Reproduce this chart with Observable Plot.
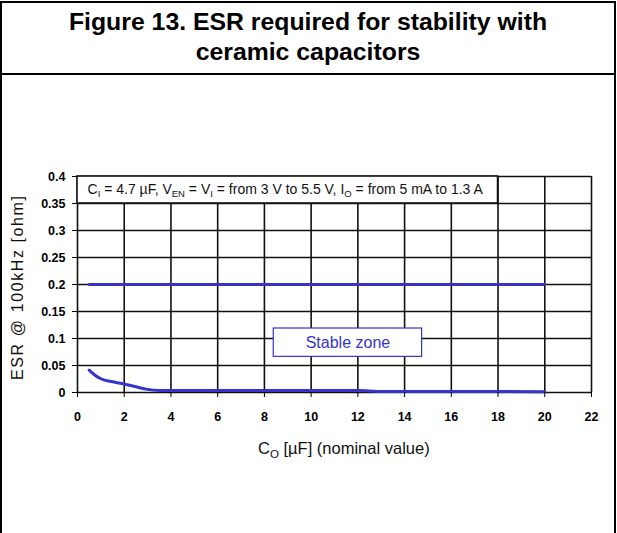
<!DOCTYPE html>
<html>
<head>
<meta charset="utf-8">
<script src="https://cdn.jsdelivr.net/npm/d3@7"></script>
<script src="https://cdn.jsdelivr.net/npm/@observablehq/plot@0.6"></script>
<style>
  html, body { margin: 0; padding: 0; background: #fff; }
  #frame { position: relative; width: 617px; height: 533px; overflow: hidden; font-family: "Liberation Sans", Arial, sans-serif; }
  #border { position: absolute; left: 0; top: 1px; width: 616px; height: 540px; box-sizing: border-box; border: 2px solid #000; pointer-events: none; }
  #title { position: absolute; left: 0; top: 0; width: 616px; height: 75px; box-sizing: border-box; border-bottom: 2px solid #000; text-align: center; font-weight: bold; font-size: 24.8px; line-height: 30px; padding-top: 7px; color: #000; }
  #chart { position: absolute; left: 0; top: 76px; }
  #chart svg { font-family: "Liberation Sans", Arial, sans-serif; }
  g[aria-label="x-axis tick label"] text, g[aria-label="y-axis tick label"] text { font-weight: bold; }
</style>
</head>
<body>
<div id="frame">
  <div id="title">Figure 13. ESR required for stability with<br>ceramic capacitors</div>
  <div id="chart"></div>
  <div id="border"></div>
</div>
<script>
// ---- data ----
const xTicks = [0, 2, 4, 6, 8, 10, 12, 14, 16, 18, 20, 22];
const yTicks = [0, 0.05, 0.1, 0.15, 0.2, 0.25, 0.3, 0.35, 0.4];

// upper ESR limit
const upperX = [0.5, 20];
const upperY = [0.2, 0.2];

// lower ESR limit
const lowerX = [0.5, 0.75, 1, 1.5, 2, 2.5, 3, 3.5, 4, 6, 8, 10, 12, 12.5, 13, 14, 16, 18, 20];
const lowerY = [0.0415, 0.032, 0.0255, 0.0198, 0.0158, 0.0105, 0.0058, 0.0038, 0.0035, 0.0035, 0.0035, 0.0035, 0.0035, 0.0028, 0.002, 0.002, 0.002, 0.002, 0.0015];

// annotation (text, isSubscript)
const annotationParts = [
  ["C", false], ["I", true], [" = 4.7 µF, V", false], ["EN", true], [" = V", false], ["I", true],
  [" = from 3 V to 5.5 V, I", false], ["O", true], [" = from 5 mA to 1.3 A", false]
];
const xLabelParts = [["C", false], ["O", true], [" [µF] (nominal value)", false]];
const yLabel = "ESR @ 100kHz [ohm]";
const zoneLabel = "Stable zone";

const annotationBox = [{x1: 0, x2: 18, y1: 0.35, y2: 0.4}];
const zoneBox = [{x1: 8.4, x2: 14.75, y1: 0.066, y2: 0.1185}];

const upper = upperX.map((x, i) => ({x, y: upperY[i]}));
const lower = lowerX.map((x, i) => ({x, y: lowerY[i]}));

const blue = "#3535c8";
const annotationText = annotationParts.map(d => d[0]).join("");
const xLabelText = xLabelParts.map(d => d[0]).join("");

const plot = Plot.plot({
  width: 617,
  height: 457,
  marginLeft: 77,
  marginRight: 26,
  marginTop: 100,
  marginBottom: 141,
  x: {domain: [0, 22]},
  y: {domain: [0, 0.4]},
  marks: [
    Plot.ruleY(yTicks, {stroke: "#111", strokeWidth: 1.6}),
    Plot.ruleX(xTicks, {stroke: "#111", strokeWidth: 1.6}),
    Plot.rect(annotationBox, {x1: "x1", x2: "x2", y1: "y1", y2: "y2", fill: "white", stroke: "#111", strokeWidth: 1.6}),
    Plot.text([annotationText], {x: 0, y: 0.375, dx: 10, textAnchor: "start", fontSize: 14, fill: "#111"}),
    Plot.line(upper, {x: "x", y: "y", stroke: blue, strokeWidth: 3}),
    Plot.line(lower, {x: "x", y: "y", stroke: blue, strokeWidth: 3, curve: "monotone-x"}),
    Plot.rect(zoneBox, {x1: "x1", x2: "x2", y1: "y1", y2: "y2", fill: "white", stroke: blue, strokeWidth: 1.2}),
    Plot.text([zoneLabel], {x: (zoneBox[0].x1 + zoneBox[0].x2) / 2, y: (zoneBox[0].y1 + zoneBox[0].y2) / 2, fontSize: 16, fill: blue}),
    Plot.axisX({ticks: xTicks, tickSize: 5, tickPadding: 15, fontSize: 12.5, tickFormat: d => String(d), label: null}),
    Plot.axisY({ticks: yTicks, tickSize: 5, tickPadding: 7, fontSize: 12.5, tickFormat: d => String(d), label: null}),
    Plot.text([yLabel], {x: 0, y: 0.195, dx: -60, rotate: -90, fontSize: 16, fill: "#111"}),
    Plot.text([xLabelText], {x: 11.4, y: 0, dy: 56, fontSize: 16.5, fill: "#111"})
  ]
});

function rich(textEl, parts, subSize, shift) {
  const t = d3.select(textEl);
  t.text(null);
  let down = false;
  parts.forEach(([s, sub]) => {
    const ts = t.append("tspan").text(s);
    if (sub) {
      ts.attr("font-size", subSize);
      if (!down) { ts.attr("dy", shift); down = true; }
    } else if (down) {
      ts.attr("dy", -shift); down = false;
    }
  });
}
const svg = d3.select(plot);
svg.selectAll("text").each(function() {
  const s = this.textContent;
  if (s === annotationText) rich(this, annotationParts, 9.5, 3);
  else if (s === xLabelText) rich(this, xLabelParts, 11.5, 4);
  else if (s === yLabel) d3.select(this).style("letter-spacing", "1.6px");
});

document.getElementById("chart").appendChild(plot);
</script>
</body>
</html>
